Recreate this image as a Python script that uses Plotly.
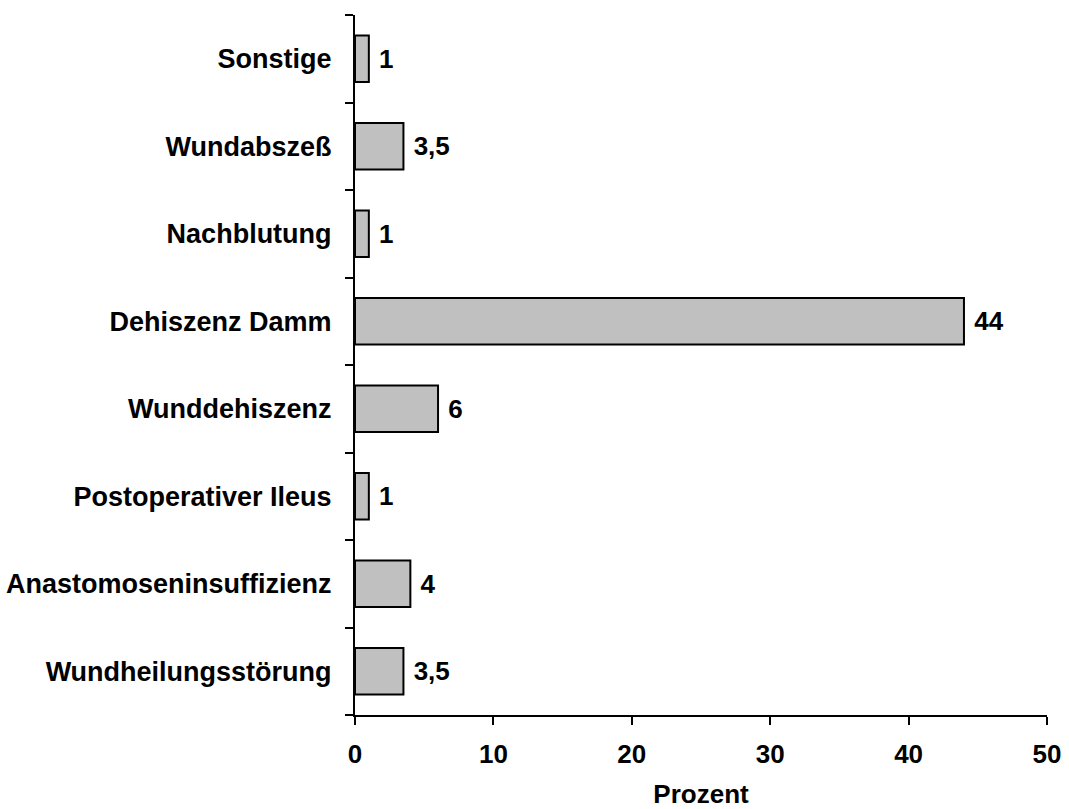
import plotly.graph_objects as go

categories = ["Wundheilungsstörung", "Anastomoseninsuffizienz", "Postoperativer Ileus",
              "Wunddehiszenz", "Dehiszenz Damm", "Nachblutung", "Wundabszeß", "Sonstige"]
values = [3.5, 4, 1, 6, 44, 1, 3.5, 1]
value_labels = ["3,5", "4", "1", "6", "44", "1", "3,5", "1"]
x_ticks = [0, 10, 20, 30, 40, 50]

font_family = "Liberation Sans, Arial, sans-serif"
fsize = 26

fig = go.Figure(go.Bar(
    y=categories, x=values, orientation="h",
    text=value_labels, texttemplate="\u00a0%{text}",
    textposition="outside", constraintext="none",
    textfont=dict(family=font_family, size=fsize, color="black", weight="bold"),
    marker=dict(color="#C0C0C0", line=dict(color="black", width=2)),
    cliponaxis=False,
))

fig.update_layout(
    width=1069, height=809,
    margin=dict(l=355, r=22, t=15, b=94),
    plot_bgcolor="white", paper_bgcolor="white",
    bargap=0.47, showlegend=False,
    font=dict(family=font_family, size=fsize, color="black", weight="bold"),
)
fig.update_xaxes(
    range=[0, 50], tickvals=x_ticks, ticks="outside", ticklen=8, tickwidth=2,
    tickcolor="black", showline=True, linecolor="black", linewidth=2,
    showgrid=False, zeroline=False, ticklabelstandoff=7, automargin=False,
    tickfont=dict(family=font_family, size=fsize, color="black", weight="bold"),
    title=dict(text="Prozent", standoff=27,
               font=dict(family=font_family, size=fsize, color="black", weight="bold")),
)
fig.update_yaxes(
    range=[-0.5, 7.5], ticks="outside", tickson="boundaries", ticklen=8, tickwidth=2,
    tickcolor="black", showline=True, linecolor="black", linewidth=2,
    showgrid=False, ticklabelstandoff=16, automargin=False,
    tickfont=dict(family=font_family, size=27, color="black", weight="bold"),
)

fig.write_html("out.html")
